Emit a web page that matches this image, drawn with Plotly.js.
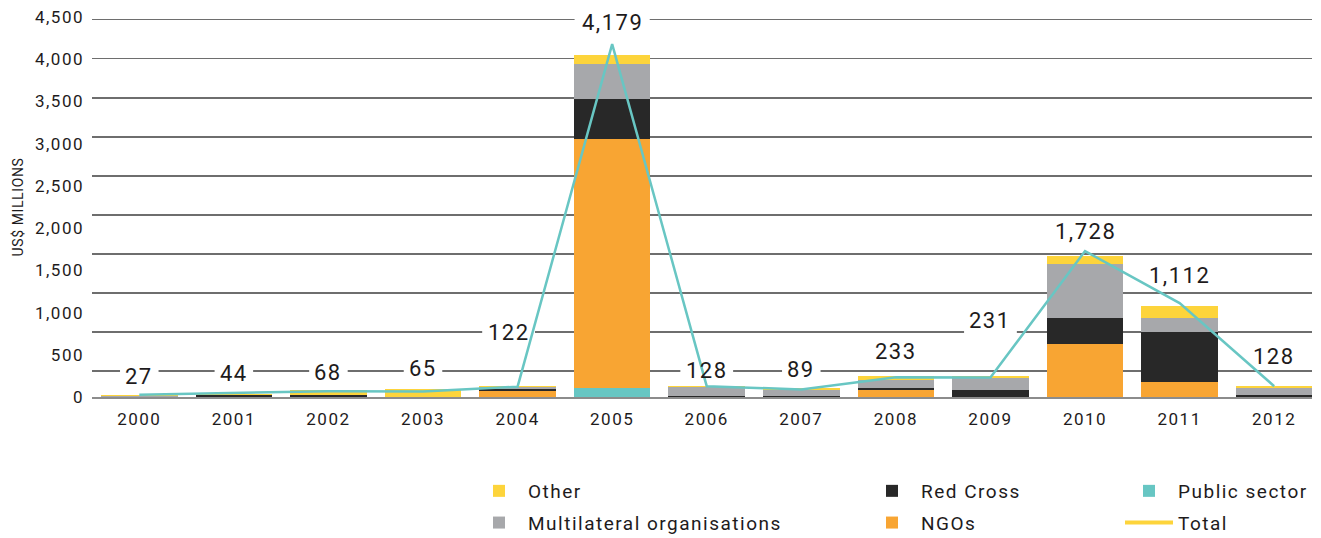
<!DOCTYPE html>
<html><head><meta charset="utf-8">
<script src="https://cdn.plot.ly/plotly-3.0.1.min.js"></script>
<style>
html,body{margin:0;padding:0;background:#fff;}
#chart{width:1321px;height:538px;}
text{letter-spacing:1.5px;}
.ytitle{letter-spacing:0.6px;}
</style></head><body><div id="chart"></div>
<script>
// ---- data (US$ millions) ----
const years = ['2000','2001','2002','2003','2004','2005','2006','2007','2008','2009','2010','2011','2012'];
const publicSector = [0, 0, 0, 0, 0, 110, 0, 5, 0, 0, 0, 0, 0];
const ngos         = [2, 5, 5, 5, 67, 2947, 5, 0, 83, 0, 628, 178, 0];
const redCross     = [0, 20, 15, 0, 28, 474, 8, 5, 24, 83, 308, 593, 20];
const multilateral = [15, 3, 0, 0, 20, 407, 103, 71, 99, 146, 640, 166, 92];
const other        = [8, 10, 62, 85, 20, 115, 16, 24, 47, 24, 99, 142, 24];
const totals       = [27, 44, 68, 65, 122, 4179, 128, 89, 233, 231, 1728, 1112, 128];

// label nudges (pixels) for the total labels, above each point
const labelLift  = [18, 20, 19, 23, 54, 22, 16, 20, 26, 57, 20, 28, 30];
const labelNudge = [0, 0, 0, 0, -9, 0, 0, 0, 0, 0, 0, 0, 0];

const FONT = 'Roboto, "Open Sans", sans-serif';
const TXT = '#1e1b1c';
const C = {other:'#FDD43B', multi:'#A7A8AB', red:'#282828', ngo:'#F8A533', pub:'#67C6C3', line:'#68C6C3'};

const W = 1321, H = 538, ML = 92, MR = 9, MT = 17, MB = 141;
const PW = W - ML - MR, PH = H - MT - MB;
const LABEL_SIZE = 22;

function bar(name, y, color, legend, rank, group){
  return {type:'bar', name:name, x:years, y:y, marker:{color:color, line:{width:0}},
          legend:legend, legendrank:rank, legendgroup:group, hoverinfo:'skip'};
}
const traces = [
  bar('Public sector', publicSector, C.pub, 'legend3', 1, 'g5'),
  bar('NGOs', ngos, C.ngo, 'legend2', 2, 'g4'),
  bar('Red Cross', redCross, C.red, 'legend2', 1, 'g3'),
  bar('Multilateral organisations', multilateral, C.multi, 'legend', 2, 'g2'),
  bar('Other', other, C.other, 'legend', 1, 'g1'),
  {type:'scatter', mode:'lines', name:'Total', x:years, y:totals, showlegend:false,
   line:{color:C.line, width:2.5}, hoverinfo:'skip'},
  // legend-only swatch for Total (drawn yellow in the source legend)
  {type:'scatter', mode:'lines', name:'Total', x:[null], y:[null], yaxis:'y2',
   line:{color:C.other, width:4}, legend:'legend3', legendrank:2, legendgroup:'g6'}
];

const labelText = totals.map(v => v.toLocaleString('en-US'));

const annotations = labelText.map((t,i)=>({
  x: i, y: totals[i], xref:'x', yref:'y', text: t,
  showarrow:false, yanchor:'middle', xanchor:'center',
  yshift: labelLift[i], xshift: labelNudge[i],
  font:{family:FONT, size:LABEL_SIZE, color:TXT}
}));

// white knock-outs behind the labels: above the gridlines, below the bars and line
const shapes = labelText.map((t,i)=>{
  let w = 10;
  for (const ch of t) w += (ch === ',' ? 0.3 : 0.58) * LABEL_SIZE + 1.5;
  return {type:'rect', layer:'between', xref:'x', yref:'y',
          xsizemode:'pixel', ysizemode:'pixel', xanchor:i, yanchor:totals[i],
          x0: labelNudge[i] - w/2, x1: labelNudge[i] + w/2,
          y0: labelLift[i] - 13, y1: labelLift[i] + 13,
          fillcolor:'#ffffff', line:{width:0}};
});

function legendAt(xpx){
  return {x:(xpx-ML)/PW, y:(H-MB-472)/PH,
          xanchor:'left', yanchor:'top', orientation:'v', traceorder:'grouped',
          itemwidth:48, tracegroupgap:4, bgcolor:'rgba(0,0,0,0)',
          font:{family:FONT, size:19, color:TXT}, itemclick:false, itemdoubleclick:false};
}

const layout = {
  width:W, height:H,
  margin:{l:ML, r:MR, t:MT, b:MB, autoexpand:false},
  paper_bgcolor:'#fff', plot_bgcolor:'#fff',
  barmode:'stack', bargap:0.19,
  showlegend:true,
  font:{family:FONT, color:TXT},
  xaxis:{type:'category', range:[-0.5, 12.4], showgrid:false, zeroline:false,
         showline:true, linecolor:'#8c8c8c', linewidth:2, ticks:'', tickangle:0,
         ticklabelstandoff:6, tickfont:{family:FONT, size:17, color:TXT}, fixedrange:true},
  yaxis:{range:[0,4500], tickmode:'linear', tick0:0, dtick:500, tickformat:',',
         showgrid:false, zeroline:false, ticks:'', ticklabelstandoff:7,
         tickfont:{family:FONT, size:17, color:TXT},
         title:{text:'US$ MILLIONS', font:{family:FONT, size:14, color:TXT}, standoff:8},
         fixedrange:true},
  yaxis2:{overlaying:'y', anchor:'x', range:[166.5, 5034.6], tickmode:'linear', tick0:0, dtick:500,
          showgrid:true, gridcolor:'#6e6e6e', gridwidth:1.5, showticklabels:false,
          zeroline:false, ticks:'', showline:false, fixedrange:true},
  legend: legendAt(470),
  legend2: legendAt(863),
  legend3: legendAt(1120),
  shapes: shapes,
  annotations: annotations
};

Plotly.newPlot('chart', traces, layout, {displayModeBar:false, staticPlot:true});
</script></body></html>
